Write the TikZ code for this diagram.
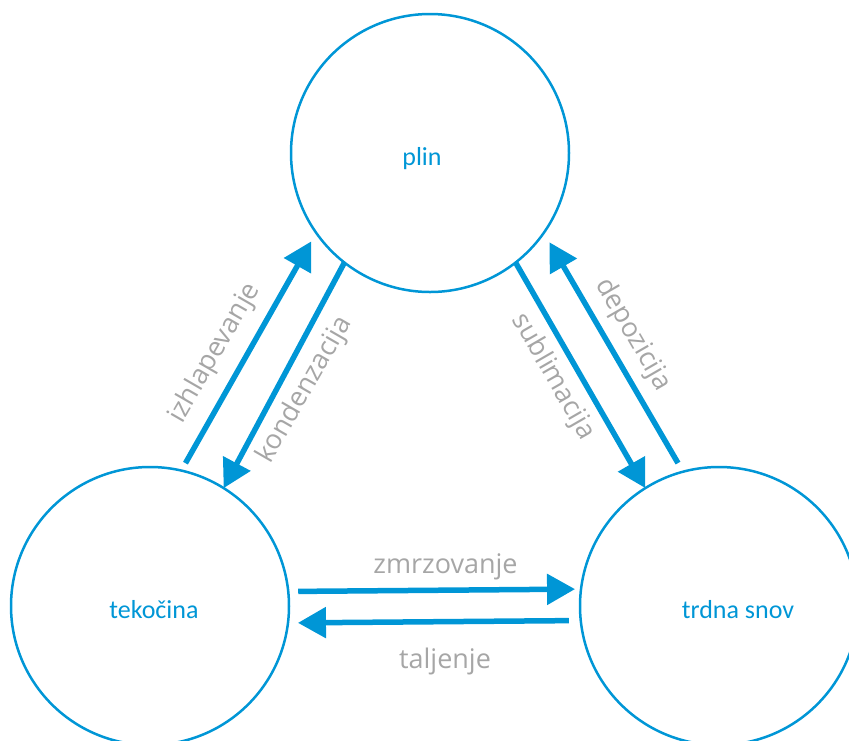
\documentclass[tikz,border=0pt]{standalone}
\usepackage{fontspec}
\usetikzlibrary{arrows.meta}
\newfontfamily\carlitofont{Carlito}
\newfontfamily\opensansfont{Open Sans}
\definecolor{myblue}{RGB}{0,150,214}
\definecolor{mygray}{RGB}{166,166,166}
\tikzset{
  state/.style={circle, draw=myblue, line width=2.5pt, minimum size=278pt, inner sep=0pt, outer sep=0pt},
  statetext/.style={text=myblue, font=\carlitofont\fontsize{26}{26}\selectfont, inner sep=0pt},
  flow/.style={draw=myblue, line width=5.5pt, -{Triangle[length=28pt,width=30pt]}},
  flowlabel/.style={text=mygray, font=\opensansfont\fontsize{27}{27}\selectfont, inner sep=0pt},
}
\begin{document}
\begin{tikzpicture}[x=1pt,y=-1pt]
\useasboundingbox (0,0) rectangle (849,740);
\clip (0,0) rectangle (849,740);
\node[state, label={[statetext, xshift=-8pt, yshift=-6pt]center:plin}] (plin) at (430,153) {};
\node[state, label={[statetext, xshift=4pt, yshift=-3.5pt]center:tekočina}] (tek) at (150,606) {};
\node[state, label={[statetext, xshift=19pt, yshift=-4pt]center:trdna snov}] (trd) at (719,606) {};
% liquid <-> gas
\draw[flow, shorten <=8.5pt, shorten >=10pt] (tek.77.5) -- (plin.215.2);
\draw[flow] (plin.232.6) -- (tek.58.8);
% gas <-> solid
\draw[flow] (plin.308.7) -- (trd.122.2);
\draw[flow, shorten <=10pt, shorten >=11pt] (trd.105.2) -- (plin.325);
% liquid <-> solid
\draw[flow, shorten <=10pt, shorten >=6pt] (tek.6.55) -- (trd.173.3);
\draw[flow, shorten <=12pt, shorten >=10pt] (trd.186.1) -- (tek.353.8);
% labels
\node[flowlabel, rotate=60] (lizh) at (215,353) {izhlapevanje};
\node[flowlabel, rotate=60] (lkon) at (305,390) {kondenzacija};
\node[flowlabel, rotate=-60] (lsub) at (553,377) {sublimacija};
\node[flowlabel, rotate=-60] (ldep) at (633,335) {depozicija};
\node[flowlabel] (lzmr) at (445.5,567) {zmrzovanje};
\node[flowlabel] (ltal) at (445,661) {taljenje};
\end{tikzpicture}
\end{document}
